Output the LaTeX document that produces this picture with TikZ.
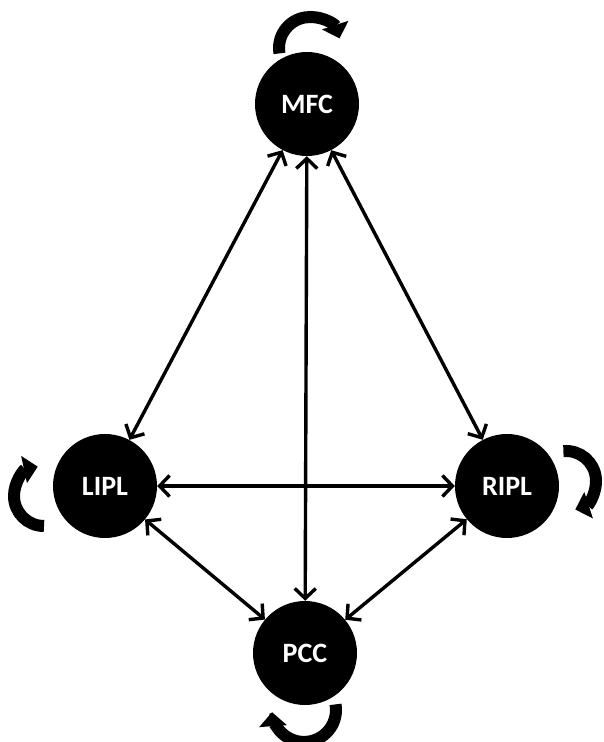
\documentclass[tikz,border=0pt]{standalone}
\usepackage{fontspec}
\setmainfont{Carlito}
\usetikzlibrary{arrows.meta}
\begin{document}
\begin{tikzpicture}[x=1pt,y=1pt,
  region/.style={circle,fill=black,minimum size=104pt,inner sep=0pt,text=white,font=\fontsize{28}{30}\selectfont\bfseries},
  link/.style={line width=3.4pt,{Straight Barb[length=10pt,width=21pt,line width=3.4pt]}-{Straight Barb[length=10pt,width=21pt,line width=3.4pt]}},
  selfloop/.style={line width=12pt,-{Triangle[length=14pt,width=27pt]}}]
\useasboundingbox (0,0) rectangle (604,742);
\node[region] (mfc) at (307,638) {MFC};
\node[region] (lipl) at (105,256) {LIPL};
\node[region] (ripl) at (507,256) {RIPL};
\node[region] (pcc) at (305,89) {PCC};
\draw[link] (mfc) -- (lipl);
\draw[link] (mfc) -- (ripl);
\draw[link] (mfc) -- (pcc);
\draw[link] (lipl) -- (ripl);
\draw[link] (lipl) -- (pcc);
\draw[link] (ripl) -- (pcc);
\draw[selfloop] (279.5,688.6) arc[start angle=190,end angle=18,radius=31];
\draw[selfloop] (44,216) arc[start angle=270,end angle=102,radius=30];
\draw[selfloop] (563.4,290.9) arc[start angle=95,end angle=-72,radius=30];
\draw[selfloop] (335.5,37.6) arc[start angle=10,end angle=-176,radius=32];
\end{tikzpicture}
\end{document}
